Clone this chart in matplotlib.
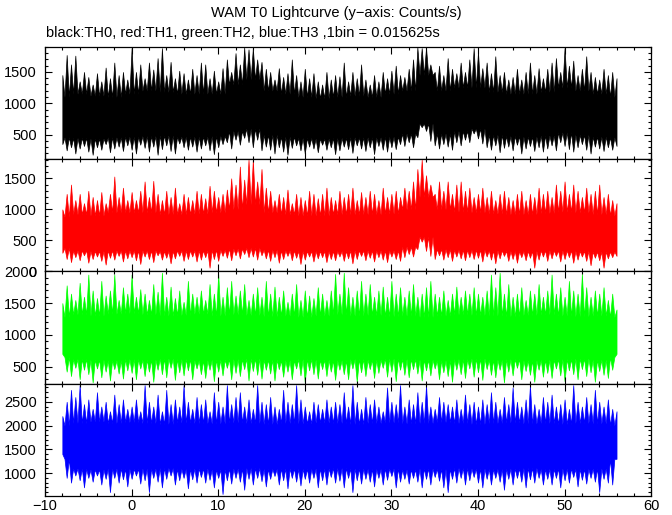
import matplotlib
matplotlib.use('Agg')
import matplotlib.pyplot as plt
import numpy as np
from matplotlib.ticker import MultipleLocator

# time grid of the spike tips (0.5 s) and of the dense core (2 s)
t_spk = np.arange(-8, 56.01, 0.5)
t_core = np.arange(-8, 56.01, 2)

## TH0 (black)
th0_hi = [1450, 1770, 1620, 1760, 1350, 1500, 1420, 1300, 1480, 1350, 1570, 1400, 1650, 1450, 1500, 1380,
          1880, 1500, 1620, 1400, 1650, 1540, 1720, 1880, 1450, 1660, 1400, 1520, 1480, 1380, 1550, 1450,
          1650, 1620, 1400, 1520, 1350, 1560, 1700, 1500, 1800, 1620, 1890, 1860, 1880, 1700, 1660, 1550,
          1500, 1380, 1560, 1420, 1480, 1700, 1450, 1350, 1550, 1400, 1480, 1350, 1300, 1500, 1380, 1450,
          1430, 1650, 1350, 1500, 1400, 1620, 1380, 1300, 1450, 1350, 1500, 1400, 1520, 1600, 1450, 1420,
          1550, 1700, 1890, 1880, 1890, 1620, 1500, 1600, 1450, 1720, 1550, 1480, 1650, 1500, 1700, 1880,
          1820, 1560, 1650, 1480, 1750, 1450, 1500, 1380, 1420, 1550, 1380, 1500, 1650, 1450, 1560, 1400,
          1550, 1650, 1720, 1500, 1880, 1600, 1680, 1450, 1550, 1750, 1500, 1420, 1380, 1550, 1450, 1500,
          1400]
th0_lo = [350, 250, 300, 200, 280, 320, 230, 180, 300, 260, 350, 220, 280, 310, 240, 330,
          260, 200, 340, 290, 230, 310, 180, 270, 330, 240, 200, 360, 300, 260, 310, 230,
          280, 330, 250, 190, 300, 350, 380, 280, 420, 340, 450, 380, 300, 420, 250, 310,
          260, 200, 300, 230, 180, 290, 330, 250, 200, 310, 280, 220, 340, 260, 300, 190,
          250, 310, 270, 210, 330, 280, 240, 300, 190, 320, 260, 230, 300, 270, 350, 320,
          380, 300, 460, 620, 560, 400, 330, 280, 350, 310, 260, 380, 330, 420, 380, 520,
          440, 360, 300, 260, 330, 220, 290, 310, 250, 340, 200, 280, 320, 240, 300, 230,
          280, 330, 250, 380, 320, 270, 230, 300, 350, 260, 200, 310, 280, 240, 300, 260,
          320]
th0_core_hi = [1100, 1150, 1120, 1100, 1150, 1200, 1180, 1150, 1150, 1150, 1300, 1380, 1200, 1150, 1100, 1080, 1100,
               1120, 1100, 1150, 1200, 1450, 1200, 1250, 1250, 1180, 1150, 1150, 1180, 1250, 1200, 1150, 1100]
th0_core_lo = [460, 450, 440, 460, 470, 480, 490, 470, 470, 480, 560, 600, 500, 470, 450, 440, 450,
               460, 460, 470, 520, 680, 520, 560, 600, 500, 480, 470, 490, 540, 500, 470, 460]

## TH1 (red)
th1_hi = [1000, 1250, 1400, 1150, 1250, 1100, 1300, 1200, 1150, 1280, 1100, 1250, 1530, 1200, 1350, 1150,
          1280, 1150, 1300, 1450, 1200, 1460, 1250, 1150, 1300, 1200, 1350, 1100, 1250, 1200, 1150, 1300,
          1250, 1180, 1380, 1300, 1200, 1250, 1320, 1500, 1400, 1690, 1480, 1800, 1800, 1450, 1650, 1350,
          1300, 1150, 1250, 1200, 1320, 1100, 1250, 1200, 1150, 1300, 1250, 1180, 1250, 1350, 1200, 1150,
          1300, 1200, 1250, 1350, 1150, 1280, 1200, 1300, 1250, 1150, 1350, 1200, 1250, 1300, 1200, 1350,
          1300, 1450, 1650, 1800, 1550, 1400, 1250, 1450, 1300, 1450, 1250, 1400, 1450, 1300, 1350, 1200,
          1250, 1350, 1200, 1300, 1150, 1250, 1300, 1200, 1150, 1250, 1300, 1150, 1250, 1200, 1350, 1250,
          1300, 1200, 1400, 1300, 1450, 1250, 1400, 1300, 1200, 1350, 1250, 1300, 1400, 1200, 1250, 1150,
          1100]
th1_lo = [300, 200, 150, 230, 180, 260, 140, 200, 240, 170, 110, 220, 190, 250, 160, 210,
          230, 180, 120, 240, 200, 150, 260, 190, 220, 130, 210, 250, 170, 200, 240, 160,
          190, 230, 60, 200, 170, 250, 220, 180, 260, 210, 280, 230, 240, 190, 260, 210,
          170, 230, 140, 200, 250, 180, 220, 120, 190, 240, 160, 210, 230, 150, 200, 180,
          240, 170, 210, 130, 200, 250, 180, 220, 160, 230, 190, 150, 240, 200, 170, 230,
          280, 240, 360, 480, 330, 250, 200, 260, 190, 230, 170, 240, 210, 180, 230, 200,
          220, 160, 240, 190, 130, 210, 250, 170, 200, 140, 230, 180, 220, 60, 190, 240,
          170, 210, 250, 160, 200, 230, 140, 190, 240, 170, 100, 220, 180, 60, 210, 230,
          250]
th1_core_hi = [880, 920, 900, 950, 950, 950, 920, 920, 930, 950, 1000, 1080, 950, 920, 900, 900, 920,
               920, 920, 930, 1000, 1200, 1000, 960, 950, 930, 920, 920, 940, 960, 950, 920, 900]
th1_core_lo = [380, 340, 330, 340, 340, 340, 330, 340, 340, 350, 370, 380, 350, 340, 330, 330, 330,
               340, 340, 340, 400, 560, 360, 350, 350, 340, 330, 330, 340, 340, 330, 320, 320]

## TH2 (green)
th2_hi = [1500, 1780, 1650, 1550, 1820, 1600, 1950, 1700, 1580, 1850, 1620, 1700, 1950, 1550, 1750, 1650,
          1950, 1600, 1720, 1650, 1550, 1800, 1680, 1980, 1600, 1760, 1580, 1700, 1520, 1850, 1650, 1600,
          1700, 1550, 1800, 1650, 1960, 1600, 1750, 1850, 1620, 1700, 1800, 1550, 1650, 1750, 1600, 1850,
          1650, 1760, 1600, 1700, 1520, 1650, 1800, 1550, 1700, 1620, 1580, 1750, 1650, 1550, 1700, 1960,
          1650, 1980, 1750, 1600, 1700, 1850, 1650, 1800, 1600, 1700, 1760, 1600, 1850, 1650, 1750, 1600,
          1700, 1800, 1600, 1650, 1750, 1850, 1650, 1600, 1700, 1550, 1650, 1760, 1600, 1700, 1650, 1750,
          1650, 1600, 1700, 1950, 1750, 1980, 1650, 1800, 1600, 1650, 1750, 1550, 1700, 1650, 1800, 1600,
          1700, 1950, 1650, 1750, 1600, 1850, 1700, 1650, 1960, 1750, 1600, 1700, 1650, 1750, 1550, 1650,
          1400]
th2_lo = [700, 420, 350, 480, 300, 450, 380, 250, 470, 330, 420, 280, 460, 390, 310, 440,
          400, 300, 470, 350, 420, 260, 450, 380, 330, 480, 290, 410, 360, 440, 300, 470,
          380, 320, 450, 270, 420, 360, 480, 300, 400, 350, 460, 280, 430, 370, 310, 450,
          390, 280, 460, 340, 420, 300, 470, 360, 250, 440, 380, 310, 460, 350, 420, 290,
          450, 380, 300, 470, 260, 410, 350, 460, 320, 400, 480, 340, 420, 270, 450, 370,
          330, 460, 390, 280, 440, 360, 470, 300, 410, 350, 260, 450, 380, 320, 470, 340,
          410, 290, 460, 370, 330, 450, 250, 420, 360, 480, 300, 430, 370, 260, 450, 340,
          400, 320, 470, 360, 270, 440, 380, 300, 460, 350, 410, 260, 430, 370, 320, 450,
          700]
th2_core_hi = [1280, 1320, 1300, 1330, 1340, 1320, 1300, 1310, 1330, 1300, 1320, 1310, 1290, 1300, 1280, 1300, 1320,
               1300, 1310, 1290, 1300, 1280, 1300, 1320, 1310, 1300, 1290, 1310, 1320, 1300, 1290, 1300, 1280]
th2_core_lo = [650, 620, 610, 600, 620, 610, 630, 620, 600, 610, 620, 630, 610, 600, 620, 610, 600,
               620, 610, 630, 620, 610, 600, 620, 630, 610, 620, 600, 610, 620, 630, 610, 650]

## TH3 (blue)
th3_hi = [2200, 2500, 2750, 2600, 2850, 2450, 2550, 2350, 2700, 2400, 2500, 2300, 2650, 2450, 2550, 2350,
          2400, 2550, 2300, 2850, 2500, 2400, 2650, 2300, 2750, 2450, 2550, 2400, 2850, 2500, 2350, 2600,
          2450, 2550, 2300, 2700, 2500, 2400, 2850, 2450, 2600, 2700, 2400, 2550, 2350, 2850, 2500, 2450,
          2600, 2400, 2350, 2750, 2500, 2450, 2850, 2550, 2400, 2300, 2500, 2450, 2350, 2550, 2400, 2500,
          2450, 2700, 2400, 2850, 2500, 2350, 2600, 2450, 2550, 2400, 2300, 2800, 2500, 2450, 2850, 2400,
          2550, 2450, 2700, 2500, 2850, 2400, 2350, 2600, 2500, 2450, 2400, 2550, 2350, 2650, 2450, 2500,
          2400, 2550, 2450, 2700, 2500, 2350, 2600, 2450, 2800, 2500, 2400, 2550, 2850, 2450, 2350, 2600,
          2500, 2650, 2400, 2450, 2550, 2350, 2850, 2500, 2400, 2600, 2450, 2750, 2500, 2400, 2550, 2350,
          2300]
th3_lo = [1400, 900, 800, 950, 850, 700, 900, 820, 950, 760, 880, 600, 900, 800, 870, 720,
          880, 950, 780, 850, 600, 900, 820, 700, 880, 950, 760, 850, 900, 680, 870, 800,
          920, 800, 860, 700, 900, 560, 850, 780, 900, 820, 650, 880, 760, 900, 830, 720,
          880, 940, 760, 850, 680, 900, 820, 740, 880, 800, 900, 700, 850, 760, 920, 800,
          840, 700, 900, 600, 850, 780, 880, 820, 720, 900, 760, 860, 940, 700, 820, 880,
          780, 900, 820, 700, 880, 760, 920, 840, 700, 600, 880, 800, 900, 760, 850, 920,
          800, 700, 880, 760, 900, 820, 650, 880, 760, 900, 820, 700, 870, 800, 900, 760,
          880, 760, 900, 700, 850, 800, 920, 720, 860, 780, 900, 820, 600, 880, 800, 760,
          1300]
th3_core_hi = [2000, 2050, 2080, 2050, 2070, 2050, 2030, 2060, 2050, 2040, 2060, 2050, 2030, 2050, 2040, 2060, 2050,
               2030, 2050, 2060, 2040, 2050, 2070, 2050, 2030, 2050, 2060, 2040, 2050, 2030, 2050, 2040, 2000]
th3_core_lo = [1300, 1100, 1080, 1100, 1090, 1100, 1110, 1090, 1100, 1080, 1100, 1110, 1090, 1100, 1090, 1100, 1110,
               1100, 1090, 1100, 1080, 1100, 1090, 1110, 1100, 1090, 1100, 1110, 1090, 1100, 1090, 1100, 1300]

colors = ['black', 'red', '#00ff00', 'blue']
ylims = [(110, 1900), (0, 1810), (230, 2000), (520, 2880)]
curves = [(th0_hi, th0_lo, th0_core_hi, th0_core_lo),
          (th1_hi, th1_lo, th1_core_hi, th1_core_lo),
          (th2_hi, th2_lo, th2_core_hi, th2_core_lo),
          (th3_hi, th3_lo, th3_core_hi, th3_core_lo)]

plt.rcParams['font.family'] = ['Liberation Sans', 'DejaVu Sans']
plt.rcParams['font.size'] = 10.5

fig, axes = plt.subplots(4, 1, figsize=(6.72, 5.15), dpi=100, sharex=True,
                         gridspec_kw=dict(hspace=0, left=0.067, right=0.969, top=0.909, bottom=0.037))

# between two spike tips the curve falls back to the core level of its 2 s bin
t_gap = t_spk[:-1] + 0.25
gap_bin = np.rint((t_gap - t_core[0]) / 2).astype(int)
n = len(t_spk)
t_all = np.empty(2 * n - 1)
t_all[0::2] = t_spk
t_all[1::2] = t_gap

for ax, c, yl, (hi, lo, chi, clo) in zip(axes, colors, ylims, curves):
    top = np.empty(2 * n - 1)
    bot = np.empty(2 * n - 1)
    top[0::2] = hi
    top[1::2] = np.asarray(chi)[gap_bin]
    bot[0::2] = lo
    bot[1::2] = np.asarray(clo)[gap_bin]
    ax.fill_between(t_all, bot, top, color=c, lw=0.5)
    ax.set_xlim(-10, 60)
    ax.set_ylim(*yl)
    ax.xaxis.set_major_locator(MultipleLocator(10))
    ax.xaxis.set_minor_locator(MultipleLocator(2))
    ax.yaxis.set_major_locator(MultipleLocator(500))
    ax.yaxis.set_minor_locator(MultipleLocator(100))
    ax.tick_params(which='both', direction='in', top=True, right=True, width=0.8)
    ax.tick_params(which='major', length=5)
    ax.tick_params(which='minor', length=2.5)
    ax.tick_params(axis='y', pad=6)
    ax.tick_params(axis='x', pad=2)
    for s in ax.spines.values():
        s.set_linewidth(0.9)

fig.text(0.5, 0.975, 'WAM T0 Lightcurve (y\u2212axis: Counts/s)', ha='center', va='center')
fig.text(0.068, 0.935, 'black:TH0, red:TH1, green:TH2, blue:TH3 ,1bin = 0.015625s', ha='left', va='center')

fig.savefig('out.png', dpi=100)
